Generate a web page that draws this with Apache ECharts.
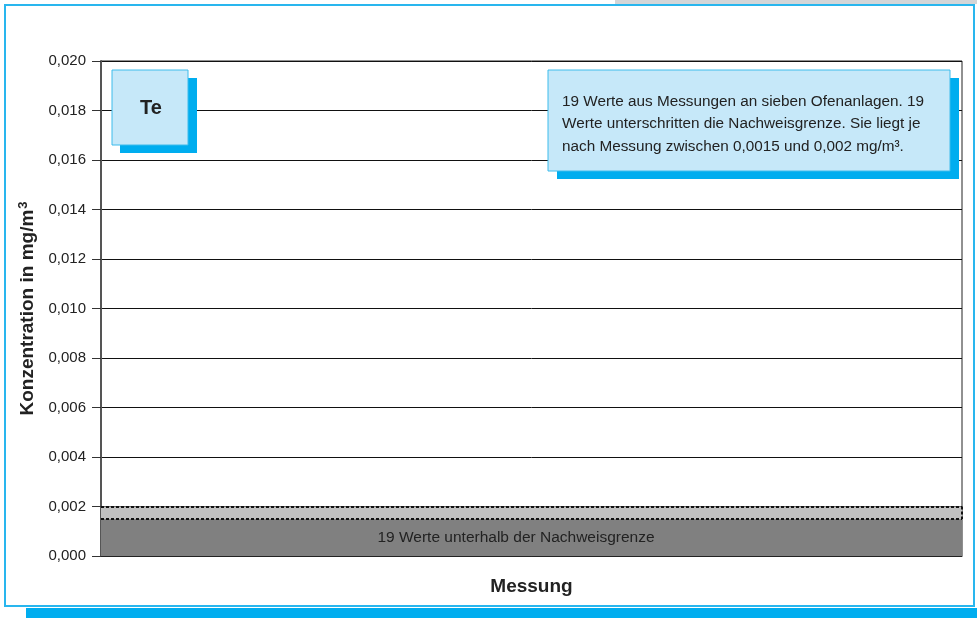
<!DOCTYPE html>
<html>
<head>
<meta charset="utf-8">
<script src="https://cdn.jsdelivr.net/npm/echarts@6/dist/echarts.min.js"></script>
<style>
html,body{margin:0;padding:0;background:#fff;}
#chart{width:977px;height:618px;}
</style>
</head>
<body>
<div id="chart"></div>
<script>
// Data
var categories = ['1','2','3','4','5','6','7','8','9','10','11','12','13','14','15','16','17','18','19'];
var lowerLimit = [0.0015,0.0015,0.0015,0.0015,0.0015,0.0015,0.0015,0.0015,0.0015,0.0015,0.0015,0.0015,0.0015,0.0015,0.0015,0.0015,0.0015,0.0015,0.0015];
var limitRange = [0.0005,0.0005,0.0005,0.0005,0.0005,0.0005,0.0005,0.0005,0.0005,0.0005,0.0005,0.0005,0.0005,0.0005,0.0005,0.0005,0.0005,0.0005,0.0005];
var limitLines = [0.0015, 0.002];
var yMin = 0, yMax = 0.020, yStep = 0.002;
var yTitle = 'Konzentration in mg/m';
var xTitle = 'Messung';
var elementLabel = 'Te';
var noteLines = [
  '19 Werte aus Messungen an sieben Ofenanlagen. 19',
  'Werte unterschritten die Nachweisgrenze. Sie liegt je',
  'nach Messung zwischen 0,0015 und 0,002 mg/m\u00b3.'
];
var barLabel = '19 Werte unterhalb der Nachweisgrenze';

var FONT = 'Liberation Sans, Arial, sans-serif';
var chart = echarts.init(document.getElementById('chart'));

var option = {
  animation: false,
  backgroundColor: '#fff',
  grid: { left: 101, right: 15, top: 61, bottom: 62, show: true, borderColor: '#222', borderWidth: 1, backgroundColor: 'transparent' },
  xAxis: {
    type: 'category',
    data: categories,
    boundaryGap: true,
    axisLine: { show: true, lineStyle: { color: '#222', width: 1 } },
    axisTick: { show: false },
    axisLabel: { show: false },
    splitLine: { show: false },
    splitArea: { show: false },
    name: xTitle,
    nameLocation: 'middle',
    nameGap: 21,
    nameTextStyle: { fontFamily: FONT, fontSize: 19, fontWeight: 'bold', color: '#222' }
  },
  yAxis: {
    type: 'value',
    min: yMin, max: yMax, interval: yStep,
    axisLine: { show: true, lineStyle: { color: '#555', width: 2 } },
    axisTick: { show: true, length: 9, lineStyle: { color: '#333', width: 1 } },
    axisLabel: {
      margin: 15, fontFamily: FONT, fontSize: 15, color: '#222',
      formatter: function (v) { return v.toFixed(3).replace('.', ','); }
    },
    splitLine: { show: true, lineStyle: { color: '#111', width: 1 } },
    name: '{t|' + yTitle + '}{s|3}',
    nameLocation: 'middle',
    nameRotate: 90,
    nameGap: 60,
    nameTextStyle: {
      rich: {
        t: { fontFamily: FONT, fontSize: 19, fontWeight: 'bold', color: '#222' },
        s: { fontFamily: FONT, fontSize: 13, fontWeight: 'bold', color: '#222', verticalAlign: 'top', padding: [0, 0, 9, 1] }
      }
    }
  },
  series: [
    {
      type: 'bar', stack: 'nwg', data: lowerLimit,
      barWidth: '106%', barGap: '-100%', clip: true,
      itemStyle: { color: '#808080' }, silent: true
    },
    {
      type: 'bar', stack: 'nwg', data: limitRange,
      barWidth: '106%', barGap: '-100%', clip: true,
      itemStyle: { color: '#c0c0c0' }, silent: true
    },
    {
      type: 'line', data: [], silent: true, z: 10,
      markLine: {
        silent: true, symbol: 'none', precision: 5,
        label: { show: false },
        lineStyle: { color: '#111', type: [3, 2], width: 2 },
        data: limitLines.map(function (v) { return { yAxis: v }; })
      }
    }
  ]
};
chart.setOption(option);

var labelY = chart.convertToPixel({ yAxisIndex: 0 }, limitLines[0] / 2);
var yLo = chart.convertToPixel({ yAxisIndex: 0 }, limitLines[0]);
var yHi = chart.convertToPixel({ yAxisIndex: 0 }, limitLines[1]);
var noteText = noteLines.join('\n');

chart.setOption({
  graphic: [
    // outer frame
    { type: 'rect', shape: { x: 615, y: 0, width: 362, height: 4 }, style: { fill: '#d4d6d8' }, silent: true },
    { type: 'rect', shape: { x: 5, y: 5, width: 969, height: 601 }, style: { fill: 'none', stroke: '#29b6ee', lineWidth: 2 }, silent: true },
    { type: 'rect', shape: { x: 26, y: 608, width: 951, height: 10 }, style: { fill: '#00adef' }, silent: true },
    // right dotted edge of the limit band
    { type: 'line', shape: { x1: 962, y1: yHi, x2: 962, y2: yLo }, style: { stroke: '#111', lineWidth: 2, lineDash: [3, 2] }, z: 60 },
    // Te box
    { type: 'rect', shape: { x: 120, y: 78, width: 77, height: 75 }, style: { fill: '#00adef' }, z: 100 },
    { type: 'rect', shape: { x: 112, y: 70, width: 76, height: 75 }, style: { fill: '#c6e8f9', stroke: '#3cbcec', lineWidth: 1 }, z: 101 },
    { type: 'text', x: 151, y: 108, z: 102, style: { text: elementLabel, fontFamily: FONT, fontSize: 20, fontWeight: 'bold', fill: '#222', align: 'center', verticalAlign: 'middle' } },
    // note box
    { type: 'rect', shape: { x: 557, y: 78, width: 402, height: 101 }, style: { fill: '#00adef' }, z: 100 },
    { type: 'rect', shape: { x: 548, y: 70, width: 402, height: 101 }, style: { fill: '#c6e8f9', stroke: '#3cbcec', lineWidth: 1 }, z: 101 },
    { type: 'text', x: 562, y: 124, z: 102, style: { text: noteText, fontFamily: FONT, fontSize: 15.3, lineHeight: 22.5, fill: '#222', align: 'left', verticalAlign: 'middle' } },
    // bar label
    { type: 'text', x: 516, y: labelY, z: 50, style: { text: barLabel, fontFamily: FONT, fontSize: 15.5, fill: '#222', align: 'center', verticalAlign: 'middle' } }
  ]
});
</script>
</body>
</html>
